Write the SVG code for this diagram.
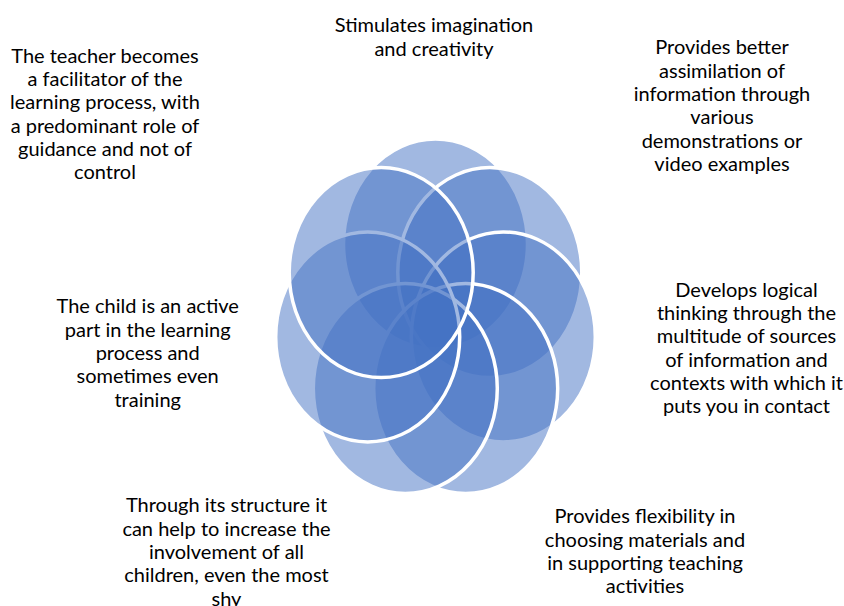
<svg xmlns="http://www.w3.org/2000/svg" width="844" height="606" viewBox="0 0 844 606">
  <style>
    .petal { fill: #4472C4; fill-opacity: 0.5; stroke: #FFFFFF; stroke-width: 3.5; }
    .lbl { font-family: Lato, "Liberation Sans", sans-serif; font-size: 20px; fill: #000000; text-anchor: middle; }
  </style>
  <rect width="844" height="606" fill="#FFFFFF"/>
  <g id="n1">
    <ellipse class="petal" cx="435.5" cy="244" rx="92" ry="105"/>
    <text class="lbl"><tspan x="434" y="32.3">Stimulates imagination</tspan><tspan x="434" y="55.5">and creativity</tspan></text>
  </g>
  <g id="n2">
    <ellipse class="petal" cx="489.8" cy="272.6" rx="92" ry="105"/>
    <text class="lbl"><tspan x="722" y="54.3">Provides better</tspan><tspan x="722" y="77.6">assimilation of</tspan><tspan x="722" y="100.9">information through</tspan><tspan x="722" y="124.2">various</tspan><tspan x="722" y="147.5">demonstrations or</tspan><tspan x="722" y="170.8">video examples</tspan></text>
  </g>
  <g id="n3">
    <ellipse class="petal" cx="503.3" cy="336.9" rx="92" ry="105"/>
    <text class="lbl"><tspan x="746.5" y="296.7">Develops logical</tspan><tspan x="746.5" y="320">thinking through the</tspan><tspan x="746.5" y="343.3">multitude of sources</tspan><tspan x="746.5" y="366.6">of information and</tspan><tspan x="746.5" y="389.9">contexts with which it</tspan><tspan x="746.5" y="413.2">puts you in contact</tspan></text>
  </g>
  <g id="n4">
    <ellipse class="petal" cx="465.7" cy="388.5" rx="92" ry="105"/>
    <text class="lbl"><tspan x="645" y="523.3">Provides flexibility in</tspan><tspan x="645" y="546.6">choosing materials and</tspan><tspan x="645" y="569.9">in supporting teaching</tspan><tspan x="645" y="593.2">activities</tspan></text>
  </g>
  <g id="n5">
    <ellipse class="petal" cx="405.3" cy="388.5" rx="92" ry="105"/>
    <text class="lbl"><tspan x="226.5" y="512.3">Through its structure it</tspan><tspan x="226.5" y="535.6">can help to increase the</tspan><tspan x="226.5" y="558.9">involvement of all</tspan><tspan x="226.5" y="582.2">children, even the most</tspan><tspan x="226.5" y="605.5">shy</tspan></text>
  </g>
  <g id="n6">
    <ellipse class="petal" cx="367.7" cy="336.9" rx="92" ry="105"/>
    <text class="lbl"><tspan x="147.7" y="313.3">The child is an active</tspan><tspan x="147.7" y="336.6">part in the learning</tspan><tspan x="147.7" y="359.9">process and</tspan><tspan x="147.7" y="383.2">sometimes even</tspan><tspan x="147.7" y="406.5">training</tspan></text>
  </g>
  <g id="n7">
    <ellipse class="petal" cx="381.2" cy="272.6" rx="92" ry="105"/>
    <text class="lbl"><tspan x="105" y="62.7">The teacher becomes</tspan><tspan x="105" y="86">a facilitator of the</tspan><tspan x="105" y="109.3">learning process, with</tspan><tspan x="105" y="132.6">a predominant role of</tspan><tspan x="105" y="155.9">guidance and not of</tspan><tspan x="105" y="179.2">control</tspan></text>
  </g>
  <g id="connectors"/>
</svg>
